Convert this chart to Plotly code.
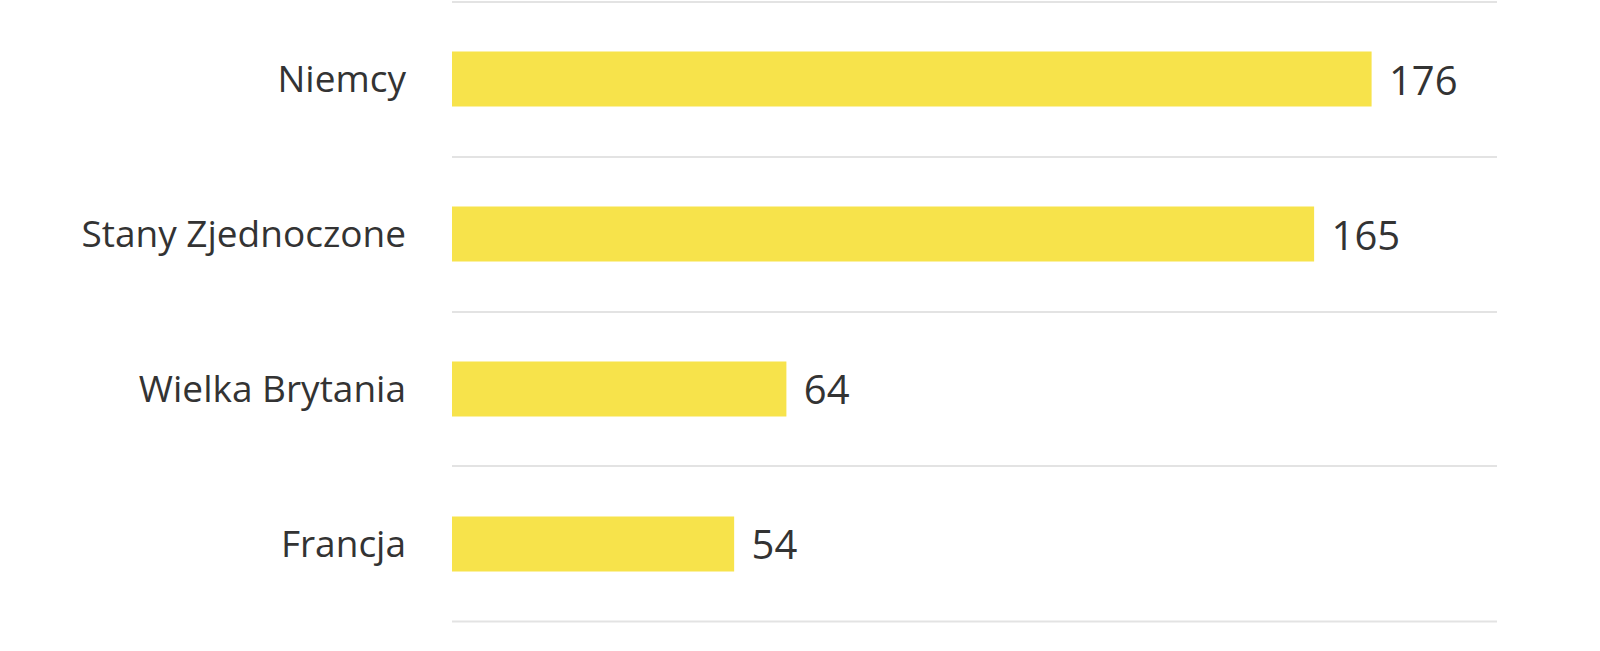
import plotly.graph_objects as go

# Dane
countries = ["Niemcy", "Stany Zjednoczone", "Wielka Brytania", "Francja"]
values = [176, 165, 64, 54]

BAR_COLOR = "#F7E34B"
TEXT_COLOR = "#333333"
GRID_COLOR = "#E3E3E3"
FONT = "Open Sans"

fig = go.Figure(
    go.Bar(
        x=values,
        y=countries,
        orientation="h",
        marker=dict(color=BAR_COLOR, line=dict(width=0)),
        width=0.355,
        text=values,
        texttemplate=" \u200a%{text}",
        textposition="outside",
        cliponaxis=False,
        textfont=dict(family=FONT, size=40, color=TEXT_COLOR),
        hoverinfo="skip",
    )
)

fig.update_layout(
    width=1600,
    height=651,
    margin=dict(l=452, r=103, t=0, b=28),
    paper_bgcolor="white",
    plot_bgcolor="white",
    showlegend=False,
    font=dict(family=FONT, size=37, color=TEXT_COLOR),
)

# ostatnia linia siatki (pod Francją) nie jest rysowana przez tickson
fig.add_shape(
    type="line",
    xref="paper", yref="y",
    x0=0, x1=1, y0=len(countries) - 0.5, y1=len(countries) - 0.5,
    line=dict(color=GRID_COLOR, width=2),
    layer="below",
)

fig.update_xaxes(range=[0, 200], visible=False, showgrid=False, zeroline=False)

fig.update_yaxes(
    type="category",
    categoryorder="array",
    categoryarray=countries,
    range=[3.51, -0.51],
    tickson="boundaries",
    showgrid=True,
    gridcolor=GRID_COLOR,
    gridwidth=2,
    ticks="",
    showline=False,
    zeroline=False,
    ticklabelstandoff=45,
    tickfont=dict(family=FONT, size=37, color=TEXT_COLOR),
)

fig.write_html(
    "out.html",
    config={"displayModeBar": False},
    post_script="document.body.style.margin='0';",
)
